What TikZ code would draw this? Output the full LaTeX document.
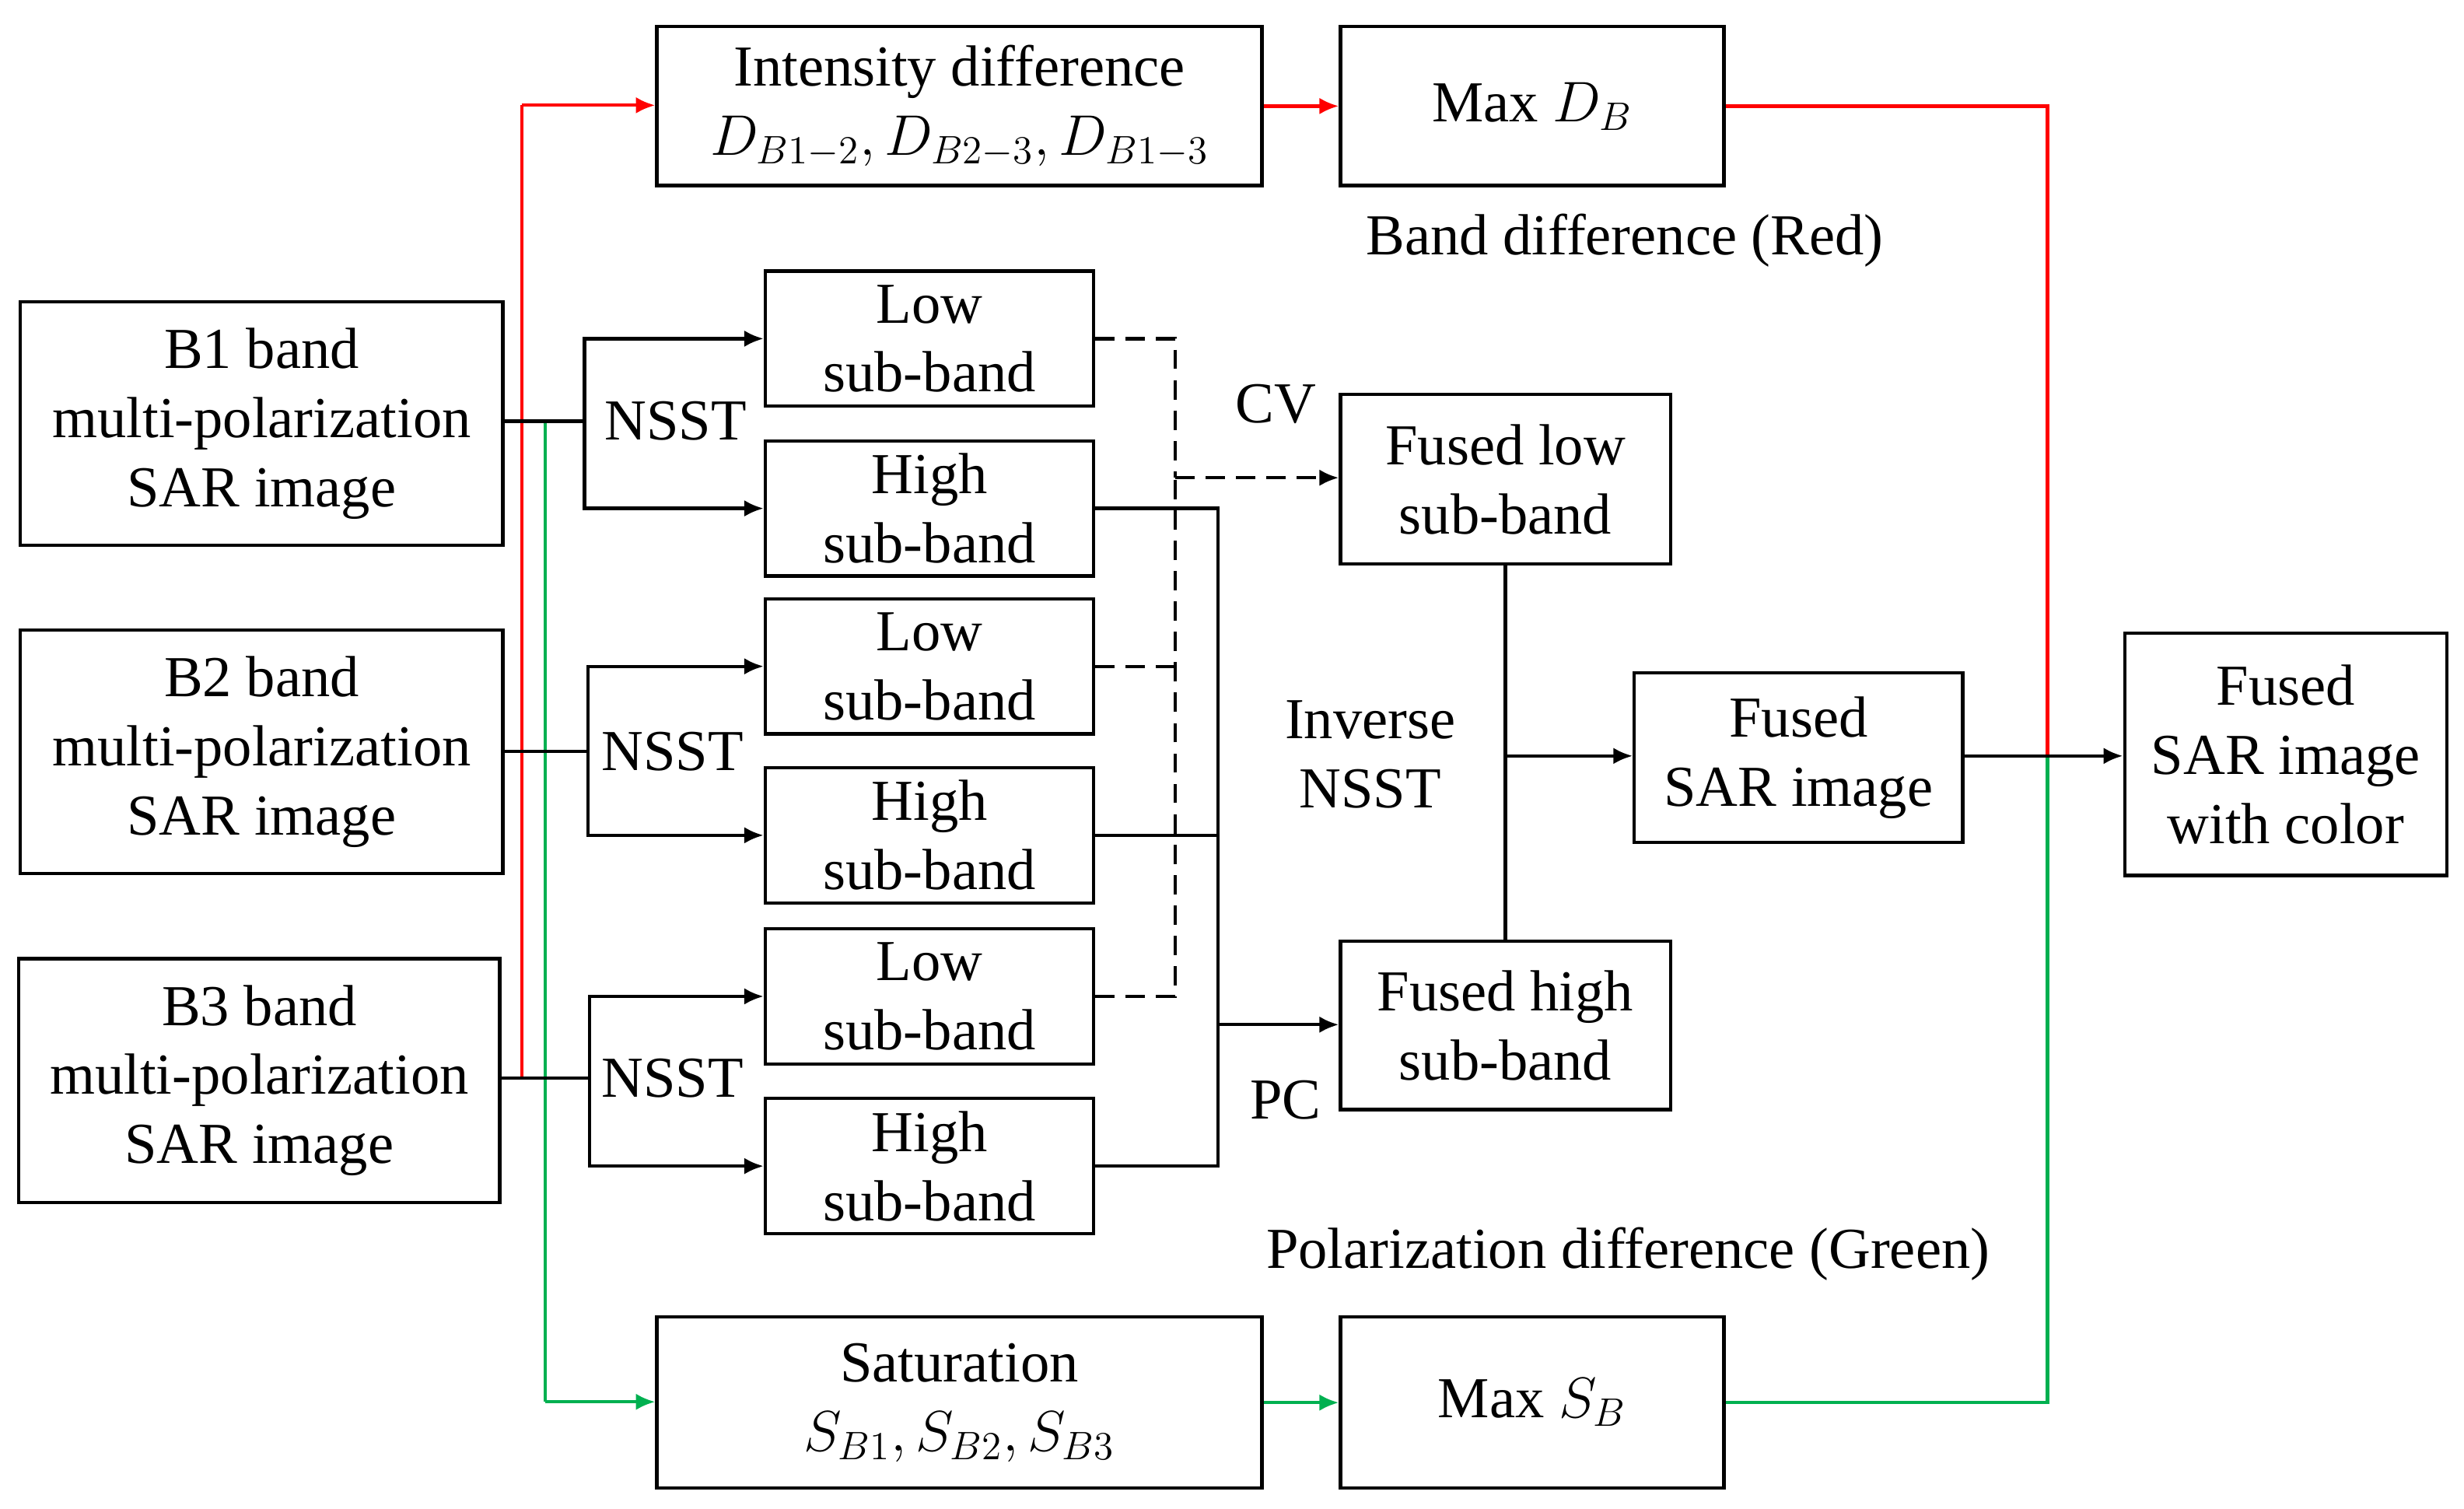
\documentclass[tikz,border=0pt]{standalone}
\usepackage{fontspec}
\setmainfont{Liberation Serif}
\usetikzlibrary{arrows.meta}
\definecolor{lred}{RGB}{255,0,0}
\definecolor{lgreen}{RGB}{0,176,80}
\begin{document}
\begin{tikzpicture}[x=0.02cm,y=-0.02cm,
  box/.style={draw,line width=1.2pt,align=center,inner sep=0pt,font=\fontsize{21}{25}\selectfont},
  lbl/.style={align=center,inner sep=0pt,font=\fontsize{21}{25}\selectfont},
  ln/.style={line width=1.2pt},
  dsh/.style={dash pattern=on 7pt off 4pt},
  arr/.style={line width=1.2pt,-{Latex[length=7pt,width=6pt]}}]
\useasboundingbox (0,0) rectangle (1568,960);
% boxes: corners in picture px
\node[box,minimum width=307*0.02cm,minimum height=155*0.02cm] (b1) at (166.5,269.5) {B1 band\\multi-polarization\\SAR image};
\node[box,minimum width=307*0.02cm,minimum height=155*0.02cm] (b2) at (166.5,478.5) {B2 band\\multi-polarization\\SAR image};
\node[box,minimum width=306*0.02cm,minimum height=155*0.02cm] (b3) at (165,687.5) {B3 band\\multi-polarization\\SAR image};
\node[box,minimum width=385*0.02cm,minimum height=101*0.02cm] (int) at (610.5,67.5) {Intensity difference\\$D_{B1-2}, D_{B2-3}, D_{B1-3}$};
\node[box,minimum width=244*0.02cm,minimum height=101*0.02cm] (maxd) at (975,67.5) {Max $D_B$};
\node[box,minimum width=385*0.02cm,minimum height=109*0.02cm] (sat) at (610.5,892.5) {Saturation\\$S_{B1}, S_{B2}, S_{B3}$};
\node[box,minimum width=244*0.02cm,minimum height=109*0.02cm] (maxs) at (975,892.5) {Max $S_B$};
\foreach \n/\y/\t in {l1/215.5/Low, h1/323.5/High, l2/424/Low, h2/531.5/High, l3/634/Low, h3/742/High}
  \node[box,minimum width=209*0.02cm,minimum height=86*0.02cm] (\n) at (591.5,\y) {\t\\sub-band};
\node[box,minimum width=210*0.02cm,minimum height=108*0.02cm] (fl) at (958,305) {Fused low\\sub-band};
\node[box,minimum width=210*0.02cm,minimum height=107*0.02cm] (fh) at (958,652.5) {Fused high\\sub-band};
\node[box,minimum width=209*0.02cm,minimum height=108*0.02cm] (fs) at (1144.5,482) {Fused\\SAR image};
\node[box,minimum width=205*0.02cm,minimum height=154*0.02cm] (fin) at (1454.5,480) {Fused\\SAR image\\with color};
% labels
\node[lbl] (n1) at (430,268) {NSST};
\node[lbl] (n2) at (428,478) {NSST};
\node[lbl] (n3) at (428,686) {NSST};
\node[lbl] (cv) at (812,257) {CV};
\node[lbl] (pc) at (818,700) {PC};
\node[lbl] (inv) at (872,480) {Inverse\\NSST};
\node[lbl] (bd) at (1034,153) {Band difference (Red)};
\node[lbl] (pd) at (1036,798) {Polarization difference (Green)};
% coordinates
\coordinate (j1) at (372,268); \coordinate (j2) at (374,478); \coordinate (j3) at (375,686);
\coordinate (rt) at (332,67); \coordinate (rb) at (332,686);
\coordinate (gt) at (347,268); \coordinate (gb) at (347,892);
\coordinate (m) at (1303,481);
\coordinate (dx) at (748,304); \coordinate (sx) at (775,652); \coordinate (ix) at (958,481);
% red / green paths
\draw[ln,lred] (rb) -- (rt);
\draw[arr,lred] (rt) -- (int.west|-rt);
\draw[arr,lred] (int.east) -- (maxd.west);
\draw[ln,lred] (maxd.east) -| (m);
\draw[ln,lgreen] (gt) -- (gb);
\draw[arr,lgreen] (gb) -- (sat.west|-gb);
\draw[arr,lgreen] (sat.east) -- (maxs.west);
\draw[ln,lgreen] (maxs.east) -| (m);
% NSST splits
\draw[ln] (b1.east|-j1) -- (j1);
\draw[ln] (b2.east|-j2) -- (j2);
\draw[ln] (b3.east|-j3) -- (j3);
\draw[arr] (j1) |- (l1.west);
\draw[arr] (j1) |- (h1.west);
\draw[arr] (j2) |- (l2.west);
\draw[arr] (j2) |- (h2.west);
\draw[arr] (j3) |- (l3.west);
\draw[arr] (j3) |- (h3.west);
% low bands (dashed)
\draw[ln,dsh] (l1.east) -| (dx);
\draw[ln,dsh] (l3.east) -| (dx);
\draw[ln,dsh] (l2.east) -- (l2.east-|dx);
\draw[arr,dsh] (dx) -- (fl.west|-dx);
% high bands
\draw[ln] (h1.east) -| (sx);
\draw[ln] (h3.east) -| (sx);
\draw[ln] (h2.east) -- (h2.east-|sx);
\draw[arr] (sx) -- (fh.west|-sx);
% inverse NSST
\draw[ln] (fl.south) -- (fh.north);
\draw[arr] (ix) -- (fs.west|-ix);
\draw[arr] (fs.east|-m) -- (fin.west|-m);
\end{tikzpicture}
\end{document}
